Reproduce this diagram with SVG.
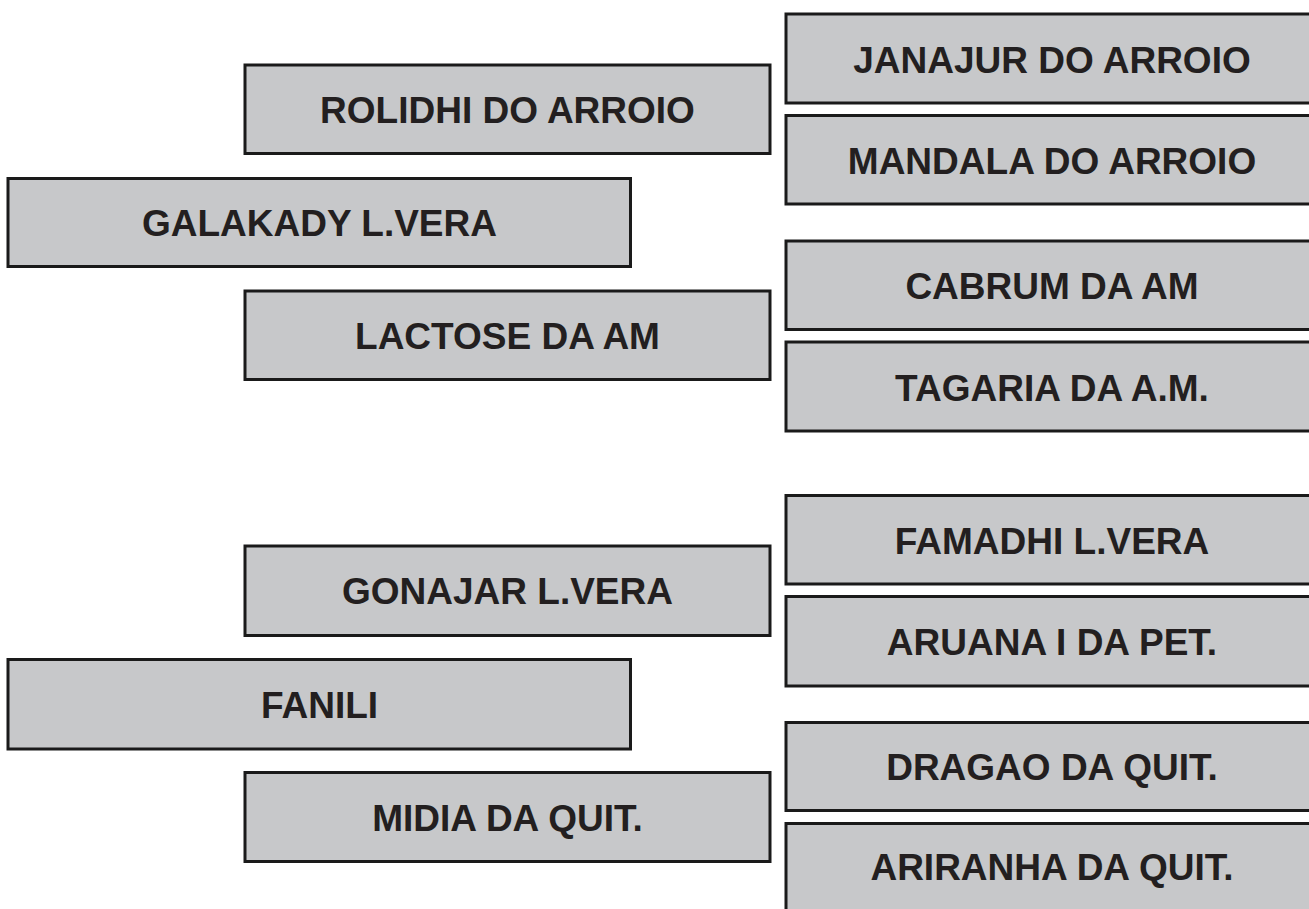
<svg xmlns="http://www.w3.org/2000/svg" width="1309" height="909" viewBox="0 0 1309 909">
<style>
.box{fill:#c7c8ca;stroke:#1a1a1a;stroke-width:3}
.lbl{font-family:"Liberation Sans",Arial,sans-serif;font-weight:bold;font-size:37px;fill:#231f20;text-anchor:middle}
</style>
<rect width="1309" height="909" fill="#ffffff"/>
<g id="connectors"></g>
<g id="n-rolidhi"><rect class="box" x="245" y="65" width="525" height="88.5"/><text class="lbl" x="507.5" y="123">ROLIDHI DO ARROIO</text></g>
<g id="n-galakady"><rect class="box" x="8" y="178.5" width="622.5" height="88"/><text class="lbl" x="319.5" y="236">GALAKADY L.VERA</text></g>
<g id="n-lactose"><rect class="box" x="245" y="291" width="525" height="88.5"/><text class="lbl" x="507.5" y="349">LACTOSE DA AM</text></g>
<g id="n-janajur"><rect class="box" x="786" y="14" width="532" height="89"/><text class="lbl" x="1052" y="73">JANAJUR DO ARROIO</text></g>
<g id="n-mandala"><rect class="box" x="786" y="115.5" width="532" height="88.5"/><text class="lbl" x="1052" y="174">MANDALA DO ARROIO</text></g>
<g id="n-cabrum"><rect class="box" x="786" y="241" width="532" height="88.5"/><text class="lbl" x="1052" y="299.3">CABRUM DA AM</text></g>
<g id="n-tagaria"><rect class="box" x="786" y="342" width="532" height="89"/><text class="lbl" x="1052" y="400.5">TAGARIA DA A.M.</text></g>
<g id="n-gonajar"><rect class="box" x="245" y="546" width="525" height="89.5"/><text class="lbl" x="507.5" y="604">GONAJAR L.VERA</text></g>
<g id="n-fanili"><rect class="box" x="8" y="659.5" width="622.5" height="89.5"/><text class="lbl" x="319.5" y="718">FANILI</text></g>
<g id="n-midia"><rect class="box" x="245" y="772.5" width="525" height="89"/><text class="lbl" x="507.5" y="831">MIDIA DA QUIT.</text></g>
<g id="n-famadhi"><rect class="box" x="786" y="495.5" width="532" height="88.5"/><text class="lbl" x="1052" y="553.5">FAMADHI L.VERA</text></g>
<g id="n-aruana"><rect class="box" x="786" y="596.5" width="532" height="89.5"/><text class="lbl" x="1052" y="655.3">ARUANA I DA PET.</text></g>
<g id="n-dragao"><rect class="box" x="786" y="722.5" width="532" height="88"/><text class="lbl" x="1052" y="780">DRAGAO DA QUIT.</text></g>
<g id="n-ariranha"><rect class="box" x="786" y="823.5" width="532" height="92"/><text class="lbl" x="1052" y="880">ARIRANHA DA QUIT.</text></g>
</svg>
